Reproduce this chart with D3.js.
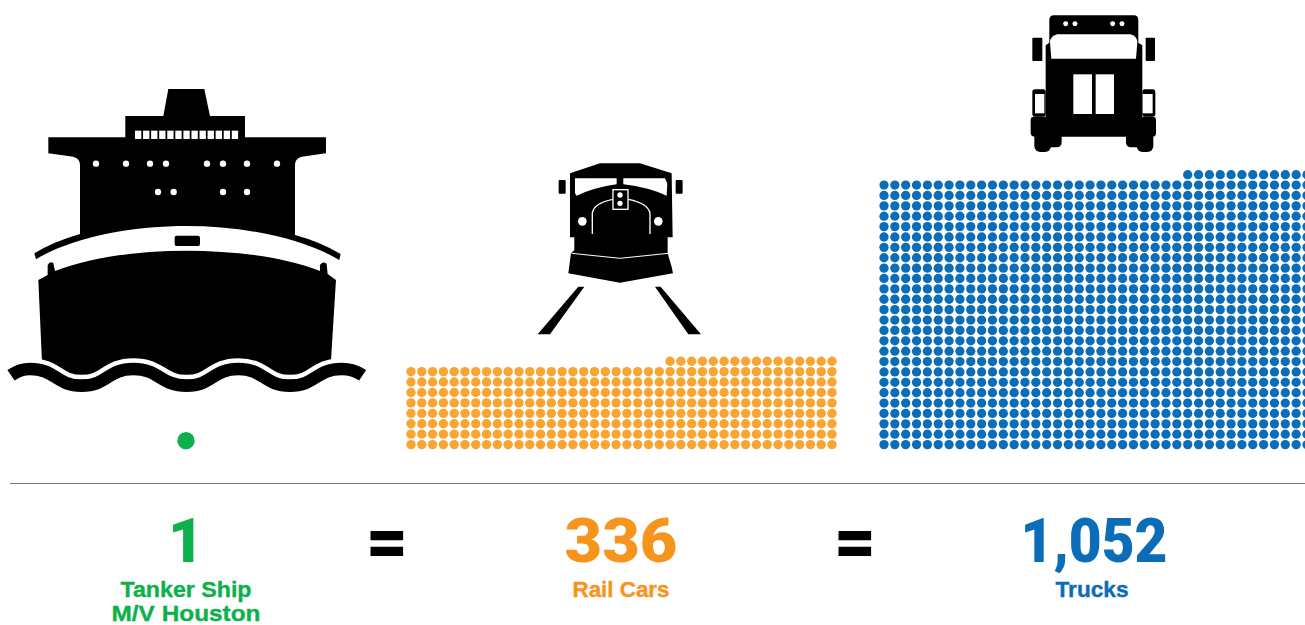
<!DOCTYPE html>
<html>
<head>
<meta charset="utf-8">
<script src="https://cdn.jsdelivr.net/npm/d3@7/dist/d3.min.js"></script>
<style>
html,body{margin:0;padding:0;background:#fff;overflow:hidden}
svg{display:block}
text{font-family:Roboto,"Liberation Sans",Arial,sans-serif;font-weight:900;text-anchor:middle}
text.lab{font-family:"Liberation Sans",Arial,sans-serif;font-weight:700;stroke-width:0.35}
</style>
</head>
<body>
<svg id="c" width="1305" height="625"></svg>
<script>
const names = ["Tanker Ship", "Rail Cars", "Trucks"];
const subNames = ["M/V Houston", "", ""];
const counts = [1, 336, 1052];
const countLabels = ["1", "336", "1,052"];
const dotColors = ["#0DB14B", "#F9A533", "#0B6CB8"];
const textColors = ["#0DB14B", "#F7941D", "#0B6CB8"];
const columns = [1, 40, 40];
const rows = [1, 9, 27];

const svg = d3.select("#c");

// ---- unit dots, one per counted vehicle ----
const xRanges = [[186, 186], [411, 832], [884, 1307]];
const yBottom = 444.6, yTops = [440.7, 361.2, 174.7];
const radii = [8.7, 4.7, 4.65];
const baseY = [440.7, yBottom, yBottom];

counts.forEach((n, s) => {
  const nc = columns[s], nr = rows[s];
  const x = d3.scaleLinear().domain([0, Math.max(1, nc - 1)]).range(xRanges[s]);
  const y = d3.scaleLinear().domain([0, Math.max(1, nr - 1)]).range([baseY[s], yTops[s]]);
  const full = Math.floor(n / nc);
  const dots = d3.range(n).map(i => {
    const r = Math.floor(i / nc);
    const c = i % nc;
    // the unfinished top row is aligned to the right edge
    const left = n - full * nc;
    return { r, c: r === full ? nc - left + c : c };
  });
  svg.append("g").selectAll("circle").data(dots).join("circle")
    .attr("cx", d => x(d.c)).attr("cy", d => y(d.r))
    .attr("r", radii[s]).attr("fill", dotColors[s]);
});

// ---- rule ----
svg.append("line").attr("x1", 10).attr("x2", 1305).attr("y1", 483.5).attr("y2", 483.5)
  .attr("stroke", "#7a7a7a").attr("stroke-width", 1);

// ---- text ----
const textX = [186, 621, 1094];
const bigWidth = [null, 113, 147];
const nameWidth = [131, 97, 73];
countLabels.forEach((t, i) => {
  const el = svg.append("text").attr("x", textX[i]).attr("y", 562)
    .attr("font-size", 62).attr("fill", textColors[i]).text(t);
  if (bigWidth[i]) el.attr("textLength", bigWidth[i]).attr("lengthAdjust", "spacingAndGlyphs");
});
names.forEach((t, i) => {
  svg.append("text").attr("class", "lab").attr("x", textX[i] - (i === 2 ? 2 : 0)).attr("y", 596.5)
    .attr("font-size", 21.5).attr("fill", textColors[i]).attr("stroke", textColors[i])
    .attr("textLength", nameWidth[i]).attr("lengthAdjust", "spacingAndGlyphs").text(t);
});
subNames.forEach((t, i) => {
  if (t) svg.append("text").attr("class", "lab").attr("x", textX[i]).attr("y", 620.5)
    .attr("font-size", 21.5).attr("fill", textColors[i]).attr("stroke", textColors[i])
    .attr("textLength", 149).attr("lengthAdjust", "spacingAndGlyphs").text(t);
});
[387, 855].forEach(x => {
  svg.append("text").attr("x", x).attr("y", 566).attr("font-size", 72).attr("fill", "#000").text("=");
});

// ---- ship pictogram ----
const ship = svg.append("g").attr("transform", "translate(0,70) scale(0.3333)");
ship.append("path").attr("fill", "#000").attr("d",
  "M505,57 L613,57 L630,138 L735,138 L735,202 L978,202 L978,250 L905,260 Q885,265 885,285 L885,495 " +
  "Q960,515 1022,552 L1018,570 C900,500 720,468 560,468 C400,468 220,500 108,568 L103,550 " +
  "Q160,515 240,492 L240,285 Q240,265 220,260 L145,250 L145,202 L376,202 L376,138 L490,138 Z");
ship.append("path").attr("fill", "#000").attr("d",
  "M115,630 L143,615 L143,585 Q150,572 160,580 L165,603 C280,560 420,542 560,542 " +
  "C700,542 850,560 960,603 L960,585 Q970,572 980,582 L983,612 L1008,630 L990,920 L128,920 Z");
const waveD = "M33,916 Q60,897 90,897 C168,897 167,947 245,947 C323,947 322,897 400,897 " +
  "C480,897 480,947 560,947 C638,947 637,897 715,897 C793,897 792,947 870,947 " +
  "C948,947 947,897 1025,897 Q1060,897 1088,916";
ship.append("path").attr("d", waveD).attr("fill", "none").attr("stroke", "#fff").attr("stroke-width", 65);
ship.append("path").attr("d", waveD).attr("fill", "none").attr("stroke", "#000").attr("stroke-width", 38);
ship.append("g").selectAll("rect").data(d3.range(13)).join("rect")
  .attr("x", i => 405 + i * 24.2).attr("y", 182).attr("width", 19).attr("height", 25).attr("fill", "#fff");
[[288, 281], [378, 281], [450, 281], [498, 281], [621, 281], [669, 281], [741, 281], [831, 281],
 [474, 366], [521, 366], [669, 366], [741, 366]].forEach(p => {
  ship.append("circle").attr("cx", p[0]).attr("cy", p[1]).attr("r", 9.5).attr("fill", "#fff");
});
ship.append("rect").attr("x", 524).attr("y", 497).attr("width", 76).attr("height", 31).attr("rx", 6).attr("fill", "#000");

// ---- train pictogram ----
const train = svg.append("g").attr("transform", "translate(400,150) scale(0.3333)");
train.append("path").attr("fill", "#000").attr("d",
  "M510,70 L600,40 L720,40 L815,70 L818,262 L803,262 L803,310 L815,350 L819,370 L660,398 L505,370 L513,310 L523,300 L523,262 L510,262 Z");
train.append("path").attr("fill", "#fff").attr("d",
  "M525,85 L650,85 L650,103 Q585,112 530,137 L525,130 Z");
train.append("path").attr("fill", "#fff").attr("d",
  "M670,85 L795,85 L802,100 L800,137 Q745,112 670,103 Z");
train.append("rect").attr("x", 476).attr("y", 90).attr("width", 21).attr("height", 41).attr("rx", 3).attr("fill", "#000");
train.append("rect").attr("x", 827).attr("y", 90).attr("width", 21).attr("height", 41).attr("rx", 3).attr("fill", "#000");
train.append("path").attr("fill", "none").attr("stroke", "#fff").attr("stroke-width", 4)
  .attr("d", "M577,252 L577,190 Q580,160 638,148 M685,148 Q745,160 750,190 L750,252");
train.append("rect").attr("x", 639).attr("y", 119).attr("width", 45).attr("height", 59)
  .attr("fill", "#000").attr("stroke", "#fff").attr("stroke-width", 4);
[[660, 135, 8], [660, 160, 8], [547, 214, 13], [775, 214, 13]].forEach(p => {
  train.append("circle").attr("cx", p[0]).attr("cy", p[1]).attr("r", p[2]).attr("fill", "#fff");
});
train.append("path").attr("fill", "none").attr("stroke", "#fff").attr("stroke-width", 3)
  .attr("d", "M515,310 L660,325 L805,310");
train.append("path").attr("fill", "#000").attr("d", "M535,410 L553,410 L450,553 L413,553 Z");
train.append("path").attr("fill", "#000").attr("d", "M765,410 L782,410 L903,553 L865,553 Z");

// ---- truck pictogram ----
const truck = svg.append("g").attr("transform", "translate(1000,0) scale(0.3333)");
truck.append("path").attr("fill", "#000").attr("d",
  "M148,60 Q148,46 162,46 L402,46 Q415,46 415,60 L415,128 L427,136 L427,350 L458,350 Q468,350 468,360 L468,400 Q468,410 458,410 " +
  "L103,410 Q92,408 92,398 L92,360 Q92,350 103,350 L137,350 L137,136 L148,128 Z");
[[103, 395, 50, 61, 18], [118, 395, 67, 47, 14], [410, 395, 50, 61, 18], [378, 395, 67, 47, 14]].forEach(r => {
  truck.append("rect").attr("x", r[0]).attr("y", r[1]).attr("width", r[2]).attr("height", r[3]).attr("rx", r[4]).attr("fill", "#000");
});
truck.append("path").attr("fill", "#fff").attr("d",
  "M172,103 L392,103 Q412,108 412,128 L408,176 L154,176 L150,128 Q150,108 172,103 Z");
[[97, 113, 30, 70], [437, 113, 28, 70]].forEach(r => {
  truck.append("rect").attr("x", r[0]).attr("y", r[1]).attr("width", r[2]).attr("height", r[3]).attr("rx", 3).attr("fill", "#000");
});
[[220, 223, 56, 119], [287, 223, 55, 119]].forEach(r => {
  truck.append("rect").attr("x", r[0]).attr("y", r[1]).attr("width", r[2]).attr("height", r[3]).attr("fill", "#fff");
});
[[97, 268, 40, 82], [427, 268, 39, 82]].forEach(r => {
  truck.append("rect").attr("x", r[0]).attr("y", r[1]).attr("width", r[2]).attr("height", r[3]).attr("rx", 8).attr("fill", "#000");
});
[[105, 282, 28, 58], [428, 282, 30, 58]].forEach(r => {
  truck.append("rect").attr("x", r[0]).attr("y", r[1]).attr("width", r[2]).attr("height", r[3]).attr("fill", "#fff");
});
[197, 225, 338, 366].forEach(x => {
  truck.append("circle").attr("cx", x).attr("cy", 71).attr("r", 7.5).attr("fill", "#fff");
});
</script>
</body>
</html>
